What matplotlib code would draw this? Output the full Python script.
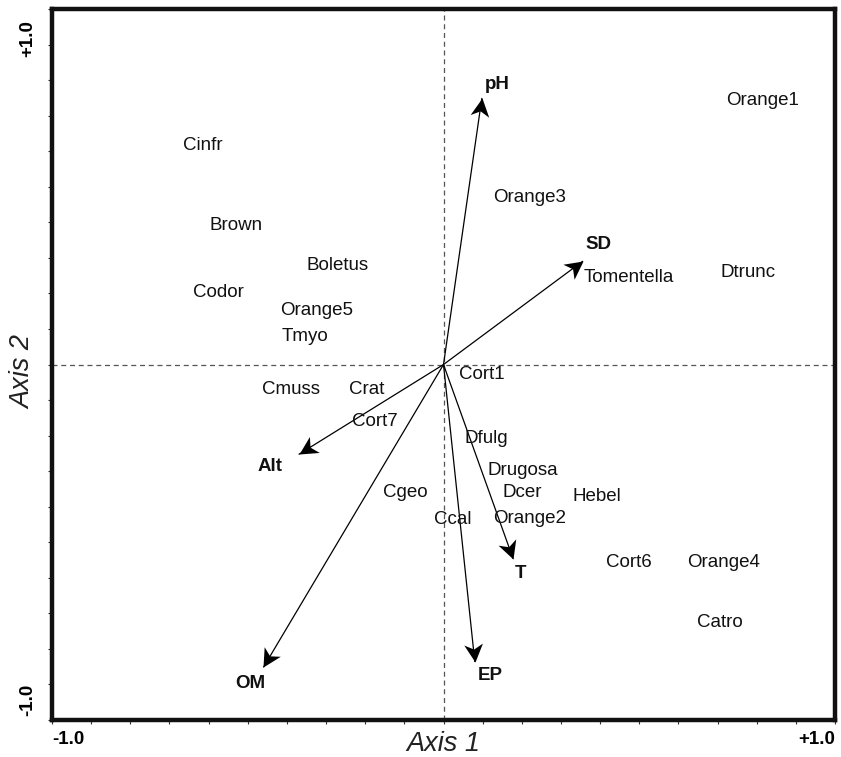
import matplotlib
matplotlib.use("Agg")
import matplotlib.pyplot as plt
from matplotlib.path import Path
from matplotlib.markers import MarkerStyle
from matplotlib.transforms import Affine2D
import numpy as np

plt.rcParams['font.family'] = ['Liberation Sans', 'DejaVu Sans']

# Environmental vectors (biplot arrows)
env_names = ["pH", "SD", "Alt", "OM", "EP", "T"]
env_x = [0.098, 0.356, -0.370, -0.460, 0.080, 0.178]
env_y = [0.750, 0.291, -0.253, -0.852, -0.837, -0.547]
# label positions for vectors
env_lx = [0.137, 0.395, -0.442, -0.493, 0.119, 0.196]
env_ly = [0.788, 0.338, -0.288, -0.896, -0.876, -0.589]

# Species scores
sp_names = ["Orange1", "Cinfr", "Orange3", "Brown", "Boletus", "Tomentella",
            "Dtrunc", "Codor", "Orange5", "Tmyo", "Cort1", "Cmuss", "Crat",
            "Cort7", "Dfulg", "Drugosa", "Dcer", "Hebel", "Cgeo", "Ccal",
            "Orange2", "Cort6", "Orange4", "Catro"]
sp_x = [0.816, -0.614, 0.221, -0.530, -0.270, 0.474, 0.778, -0.576, -0.323,
        -0.354, 0.097, -0.389, -0.195, -0.175, 0.109, 0.203, 0.201, 0.392,
        -0.098, 0.024, 0.221, 0.474, 0.716, 0.706]
sp_y = [0.744, 0.615, 0.470, 0.392, 0.280, 0.246, 0.260, 0.203, 0.153,
        0.080, -0.027, -0.070, -0.070, -0.160, -0.207, -0.297, -0.359,
        -0.371, -0.359, -0.435, -0.432, -0.557, -0.557, -0.726]

fig = plt.figure(figsize=(8.41, 7.57), dpi=100)
ax = fig.add_axes([0.0618, 0.0489, 0.9929 - 0.0618, 0.988 - 0.0489])
ax.set_xlim(-1, 1)
ax.set_ylim(-1, 1)

ax.axhline(0, color='#555555', lw=0.9, ls=(0, (4, 3)), zorder=1)
ax.axvline(0, color='#555555', lw=0.9, ls=(0, (4, 3)), zorder=1)

# stealth-shaped arrowhead path, tip at origin pointing along +x
head_path = Path([(0, 0), (-1.0, 0.52), (-0.72, 0), (-1.0, -0.52), (0, 0)],
                 [Path.MOVETO, Path.LINETO, Path.LINETO, Path.LINETO,
                  Path.CLOSEPOLY])

for name, x, y, lx, ly in zip(env_names, env_x, env_y, env_lx, env_ly):
    ax.plot([0, x], [0, y], color='black', lw=0.9, zorder=3,
            solid_capstyle='butt')
    p0 = ax.transData.transform((0, 0))
    p1 = ax.transData.transform((x, y))
    ang = np.degrees(np.arctan2(p1[1] - p0[1], p1[0] - p0[0]))
    m = MarkerStyle(head_path, transform=Affine2D().rotate_deg(ang))
    ax.plot([x], [y], marker=m, markersize=26, color='black',
            markeredgewidth=0, zorder=3)
    ax.text(lx, ly, name, fontsize=13.5, fontweight='bold', ha='center',
            va='center', color='#111111', zorder=4)

for name, x, y in zip(sp_names, sp_x, sp_y):
    ax.text(x, y, name, fontsize=13.5, ha='center', va='center',
            color='#111111', zorder=4)

for s in ax.spines.values():
    s.set_linewidth(3.2)
    s.set_color('#111111')

ticks = np.round(np.arange(-1.0, 1.01, 0.1), 2)
ax.set_xticks(ticks)
ax.set_yticks(ticks)
ax.set_xticklabels([])
ax.set_yticklabels([])
ax.tick_params(direction='out', length=3, width=0.8, colors='#333333',
               top=False, right=False)

ax.text(0.0, -0.016, "-1.0", transform=ax.transAxes, ha='left', va='top',
        fontsize=13.5, fontweight='bold')
ax.text(1.0, -0.016, "+1.0", transform=ax.transAxes, ha='right', va='top',
        fontsize=13.5, fontweight='bold')
ax.text(-0.031, 0.005, "-1.0", transform=ax.transAxes, ha='center', va='bottom',
        rotation=90, fontsize=13.5, fontweight='bold')
ax.text(-0.031, 0.985, "+1.0", transform=ax.transAxes, ha='center', va='top',
        rotation=90, fontsize=13.5, fontweight='bold')

ax.text(0.5, -0.034, "Axis 1", transform=ax.transAxes, ha='center', va='center',
        fontsize=19.5, fontstyle='italic', color='#222222')
ax.text(-0.037, 0.49, "Axis 2", transform=ax.transAxes, ha='center', va='center',
        rotation=90, fontsize=19.5, fontstyle='italic', color='#222222')

fig.savefig("out.png", dpi=100)
